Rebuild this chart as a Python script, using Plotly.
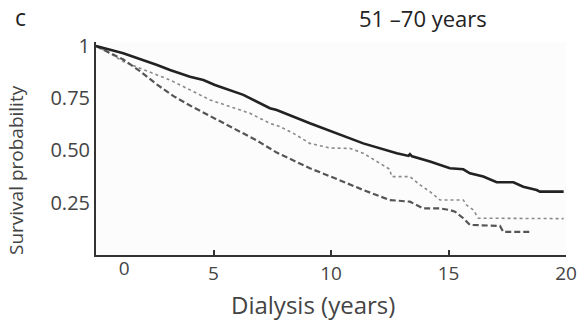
import plotly.graph_objects as go

# Kaplan-Meier style survival curves (time in years, survival probability)
solid_t = [0, 1.16, 2.6, 3.15, 4.0, 4.57, 5.06, 5.99, 6.27, 7.4, 7.69, 9.1, 10.17, 11.37, 12.8,
           13.3, 13.36, 13.45, 14.21, 15.06, 15.63, 15.91, 16.48, 17.05, 17.76, 18.18, 18.75, 18.89, 19.9]
solid_s = [1.0, 0.965, 0.909, 0.885, 0.853, 0.837, 0.813, 0.774, 0.766, 0.702, 0.694, 0.63, 0.585, 0.534, 0.487,
           0.474, 0.482, 0.472, 0.447, 0.415, 0.41, 0.391, 0.375, 0.348, 0.348, 0.327, 0.311, 0.303, 0.303]

dotted_t = [0, 0.6, 1.16, 1.87, 2.6, 3.15, 4.0, 4.85, 5.7, 6.55, 7.4, 7.83, 8.4, 9.1, 9.96, 10.8, 11.37,
            12.09, 12.5, 12.58, 13.36, 13.79, 14.21, 14.64, 15.63, 15.77, 16.06, 16.27, 19.9]
dotted_s = [1.0, 0.965, 0.925, 0.893, 0.861, 0.837, 0.79, 0.742, 0.71, 0.678, 0.63, 0.614, 0.582, 0.534, 0.512, 0.51, 0.487,
            0.439, 0.41, 0.375, 0.375, 0.335, 0.303, 0.263, 0.263, 0.239, 0.215, 0.176, 0.174]

dashed_t = [0, 1.16, 1.87, 2.6, 3.3, 4.0, 4.85, 5.99, 6.84, 7.69, 9.1, 10.17, 11.37, 12.5, 13.36, 13.93,
            14.64, 15.06, 15.28, 15.63, 15.91, 17.19, 17.33, 18.54]
dashed_s = [1.0, 0.935, 0.88, 0.815, 0.76, 0.715, 0.665, 0.598, 0.548, 0.49, 0.415, 0.367, 0.311, 0.263, 0.255, 0.223,
            0.223, 0.215, 0.207, 0.176, 0.144, 0.139, 0.111, 0.111]

x_tick_vals = [5, 10, 15, 20]
x_tick_text = ["5", "10", "15", "20"]
zero_label_pos = [1.2]
zero_label_text = ["0"]
y_tick_vals = [1, 0.75, 0.5, 0.25]
y_tick_text = ["1", "0.75", "0.50", "0.25"]

title_text = "51 \u201370 years"
panel_label = "c"
x_title = "Dialysis (years)"
y_title = "Survival probability"

FONT = "Open Sans, sans-serif"

W, H = 577, 321
l, r, t, b = 96, 11, 42, 66
pw, ph = W - l - r, H - t - b


def px2paper(px, py):
    return (px - l) / pw, 1 - (py - t) / ph


fig = go.Figure()
fig.add_trace(go.Scatter(x=dotted_t, y=dotted_s, mode="lines",
                         line=dict(color="#8a8a8a", width=1.6, dash="dot"), showlegend=False))
fig.add_trace(go.Scatter(x=dashed_t, y=dashed_s, mode="lines",
                         line=dict(color="#555555", width=2.2, dash="6px,3px"), showlegend=False))
fig.add_trace(go.Scatter(x=solid_t, y=solid_s, mode="lines",
                         line=dict(color="#222222", width=2.6), showlegend=False))
# invisible trace on secondary x axis carrying the offset "0" tick label
fig.add_trace(go.Scatter(x=[0, 20], y=[0.5, 0.5], xaxis="x2", mode="markers",
                         marker=dict(size=1, opacity=0), hoverinfo="skip", showlegend=False))

annots = []
for txt, (px, py), size, color, ang in [
    (title_text, (423, 18), 22, "#222222", 0),
    (panel_label, (20, 17), 23, "#222222", 0),
    (x_title, (313, 304), 24, "#444444", 0),
    (y_title, (16, 170), 19, "#444444", -90),
]:
    ax, ay = px2paper(px, py)
    annots.append(dict(text=txt, x=ax, y=ay, xref="paper", yref="paper", showarrow=False,
                       xanchor="center", yanchor="middle", textangle=ang,
                       font=dict(size=size, color=color, family=FONT)))

fig.update_layout(
    width=W, height=H,
    margin=dict(l=l, r=r, t=t, b=b),
    paper_bgcolor="white", plot_bgcolor="#fcfcfc",
    font=dict(family=FONT, color="#444444", size=18),
    xaxis=dict(range=[0, 20], tickvals=x_tick_vals, ticktext=x_tick_text, automargin=False,
               showline=True, linecolor="#333333", linewidth=2,
               ticks="inside", ticklen=5, tickwidth=2, tickcolor="#333333",
               showgrid=False, zeroline=False,
               tickfont=dict(size=19, color="#444444")),
    xaxis2=dict(range=[0, 20], overlaying="x", side="bottom", automargin=False,
                tickvals=zero_label_pos, ticktext=zero_label_text, ticks="",
                showline=False, showgrid=False, zeroline=False,
                tickfont=dict(size=19, color="#444444")),
    yaxis=dict(range=[0, 1.019], tickvals=y_tick_vals, ticktext=y_tick_text, automargin=False,
               showline=True, linecolor="#333333", linewidth=2, ticks="",
               showgrid=False, zeroline=False,
               tickfont=dict(size=20, color="#444444")),
    annotations=annots,
)

# remove the default page margin so the figure sits at the top-left corner of the window
fig.write_html("out.html", config={"displayModeBar": False},
               post_script="document.body.style.margin='0';")
